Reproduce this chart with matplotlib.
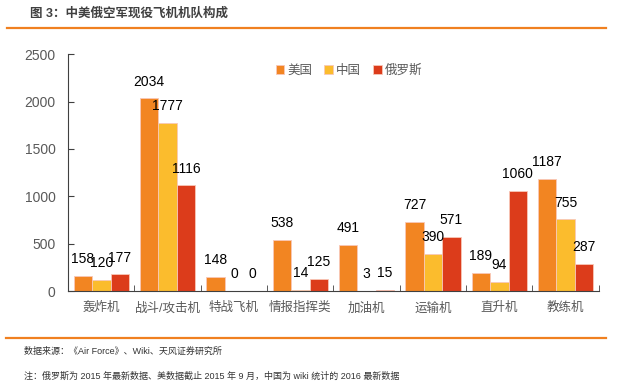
import numpy as np
import matplotlib
matplotlib.use("Agg")
import matplotlib.pyplot as plt
from matplotlib.lines import Line2D

plt.rcParams['font.family'] = ['Liberation Sans', 'Noto Sans CJK SC', 'DejaVu Sans']

categories = ["轰炸机", "战斗/攻击机", "特战飞机", "情报指挥类", "加油机", "运输机", "直升机", "教练机"]
series_names = ["美国", "中国", "俄罗斯"]
usa = [158, 2034, 148, 538, 491, 727, 189, 1187]
china = [120, 1777, 0, 14, 3, 390, 94, 755]
russia = [177, 1116, 0, 125, 15, 571, 1060, 287]
colors = ["#F28522", "#FBBC2D", "#DC3C1B"]

title = "图 3：中美俄空军现役飞机机队构成"
source = "数据来源：《Air Force》、Wiki、天风证券研究所"
note = "注：俄罗斯为 2015 年最新数据、美数据截止 2015 年 9 月，中国为 wiki 统计的 2016 最新数据"

fig = plt.figure(figsize=(6.31, 3.87), dpi=100)
ax = fig.add_axes([0.108, 0.248, 0.841, 0.612])

x = np.arange(len(categories))
w = 0.278
for i, (vals, name) in enumerate(zip([usa, china, russia], series_names)):
    bars = ax.bar(x + (i - 1) * w, vals, w, color=colors[i], edgecolor="#F8C8B8",
                  linewidth=0.6, label=name)
    for b, v in zip(bars, vals):
        ax.annotate(str(v), (b.get_x() + b.get_width() / 2, v), xytext=(0, 7),
                    textcoords="offset points", ha="center", va="bottom",
                    fontsize=10, color="black")

ax.set_xlim(-0.5, len(categories) - 0.5)
ax.set_ylim(0, 2500)
ax.set_yticks(np.arange(0, 2501, 500))
ax.set_xticks(x)
ax.set_xticklabels(categories, fontsize=9, color="#595959")
ax.set_xticks(np.arange(0.5, len(categories), 1), minor=True)
ax.tick_params(axis="x", which="major", length=0, pad=8)
ax.tick_params(axis="x", which="minor", direction="in", length=4, color="#404040")
ax.tick_params(axis="y", direction="in", length=4, labelsize=10, labelcolor="#595959",
               color="#404040", pad=9)
for s in ["top", "right"]:
    ax.spines[s].set_visible(False)
for s in ["left", "bottom"]:
    ax.spines[s].set_color("#404040")

ax.legend(loc="center left", bbox_to_anchor=(0.37, 0.93), ncol=3, frameon=False,
          handlelength=0.7, handleheight=0.7, handletextpad=0.2, columnspacing=1.0,
          fontsize=9, labelcolor="#595959")

fig.text(30 / 631, 1 - 14 / 387, title, fontsize=9, fontweight="bold",
         color="#404040", va="center", ha="left")
fig.add_artist(Line2D([7 / 631, 606 / 631], [1 - 28 / 387] * 2, color="#F08020", lw=1.6))
fig.add_artist(Line2D([6 / 631, 606 / 631], [1 - 338 / 387] * 2, color="#F08020", lw=1.6))
fig.text(24 / 631, 1 - 351 / 387, source, fontsize=6.5, color="#333333", va="center", ha="left")
fig.text(24 / 631, 1 - 376 / 387, note, fontsize=6.5, color="#333333", va="center", ha="left")

fig.savefig("out.png", dpi=100)
